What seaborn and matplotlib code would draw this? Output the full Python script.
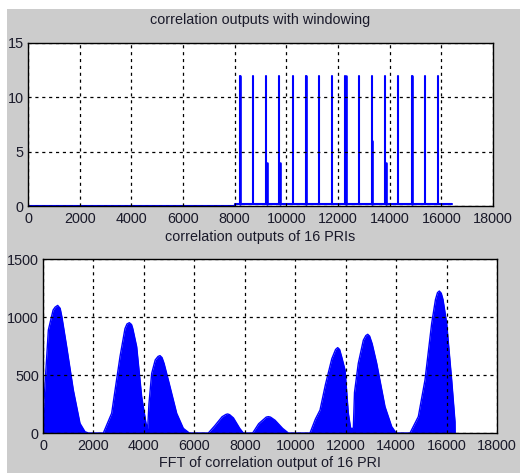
import numpy as np
import pandas as pd
import matplotlib
matplotlib.use("Agg")
import matplotlib.pyplot as plt
import seaborn as sns
from matplotlib.patches import Rectangle

# ---------------- data ----------------
# top: correlation outputs with windowing (spikes)
spike_pos = [8192, 8704, 9216, 9728, 10240, 10752, 11264, 11776,
             12288, 12800, 13312, 13824, 14336, 14848, 15360, 15872]
spike_h = [12, 12, 12, 12, 12, 12, 12, 12, 12, 12, 12, 12, 12, 12, 12, 12]
extra_pos = [8215, 9236, 9748, 10775, 12310, 13332, 13844, 14870]
extra_h = [12, 4, 4, 12, 12, 6, 4, 12]
base_x = [0, 8000, 8000, 16400]
base_y = [0, 0, 0.15, 0.15]
base_level = 0.15

# bottom: FFT envelope
fft_x = [0, 20, 80, 212, 400, 480, 582, 680, 750, 939, 1203, 1467, 1665, 1800,
         2392, 2722, 3053, 3250, 3330, 3423, 3510, 3560, 3714, 3912, 4084, 4150,
         4200, 4309, 4450, 4560, 4639, 4720, 4800, 4969, 5300, 5564, 5800,
         6555, 6800, 7100, 7250, 7322, 7400, 7550, 7800, 7942,
         8313, 8550, 8850, 8934, 9020, 9200, 9500, 9727,
         10586, 10800, 10983, 11200, 11450, 11600, 11683, 11760, 11850, 11974, 12106, 12198,
         12304, 12350, 12500, 12700, 12800, 12874, 12950, 13050, 13230, 13560, 13825, 14000,
         14551, 14880, 15145, 15410, 15560, 15640, 15713, 15790, 15860, 16005, 16203, 16335, 16340]
fft_y = [0, 215, 420, 888, 1060, 1085, 1100, 1075, 1000, 744, 370, 83, 11, 0,
         0, 170, 658, 900, 940, 951, 935, 900, 744, 313, 83, 40,
         250, 514, 630, 660, 667, 650, 600, 457, 170, 40, 0,
         0, 60, 140, 160, 164, 158, 130, 40, 0,
         0, 80, 137, 141, 137, 110, 40, 0,
         0, 120, 198, 420, 640, 720, 736, 720, 650, 543, 170, 40,
         40, 350, 600, 800, 840, 851, 835, 770, 601, 227, 55, 0,
         0, 141, 457, 945, 1150, 1210, 1224, 1205, 1150, 945, 457, 97, 0]

x_ticks = [0, 2000, 4000, 6000, 8000, 10000, 12000, 14000, 16000, 18000]
top_yticks = [0, 5, 10, 15]
bot_yticks = [0, 500, 1000, 1500]

# ---------------- style ----------------
sns.set_theme(style="white")
plt.rcParams['font.family'] = ['Liberation Sans', 'DejaVu Sans']
FS = 10.4
plt.rcParams['font.size'] = FS
TXT = "#1a1a2a"

W, H = 520, 473
fig = plt.figure(figsize=(W / 100, H / 100), dpi=100, facecolor="white")
fig.patches.append(Rectangle((7 / W, 0), 1 - 7 / W, 1 - 9 / H,
                             transform=fig.transFigure, facecolor="#cccccc",
                             edgecolor="none", zorder=-10))

def ax_rect(l, r, t, b):
    return [l / W, 1 - b / H, (r - l) / W, (b - t) / H]

ax1 = fig.add_axes(ax_rect(28, 493, 43, 206))
ax2 = fig.add_axes(ax_rect(43, 497, 259, 433))

BLUE = "#0000ff"

# top chart
base_df = pd.DataFrame({"x": base_x, "y": base_y})
sns.lineplot(data=base_df, x="x", y="y", ax=ax1, color=BLUE, lw=1.5,
             estimator=None, sort=False)
rows = []
for i, (p, h) in enumerate(zip(spike_pos, spike_h)):
    rows += [(p, base_level, i), (p, h, i)]
sp_df = pd.DataFrame(rows, columns=["x", "y", "u"])
sns.lineplot(data=sp_df, x="x", y="y", units="u", ax=ax1, color=BLUE,
             lw=1.5, estimator=None, sort=False)
rows = []
for j, (p, h) in enumerate(zip(extra_pos, extra_h)):
    rows += [(p, base_level, j), (p, h, j)]
ex_df = pd.DataFrame(rows, columns=["x", "y", "u"])
sns.lineplot(data=ex_df, x="x", y="y", units="u", ax=ax1, color=BLUE,
             lw=1.9, estimator=None, sort=False)

# bottom chart
fft_df = pd.DataFrame({"x": fft_x, "y": fft_y})
sns.lineplot(data=fft_df, x="x", y="y", ax=ax2, color=BLUE, lw=1.0,
             estimator=None, sort=False)
ax2.fill_between(fft_df["x"], 0, fft_df["y"], color=BLUE, lw=0)

for ax, yt in ((ax1, top_yticks), (ax2, bot_yticks)):
    ax.set_xlim(0, 18000)
    ax.set_ylim(yt[0], yt[-1])
    ax.set_xticks(x_ticks)
    ax.set_xticklabels([str(v) for v in x_ticks])
    ax.set_yticks(yt)
    ax.set_yticklabels([str(v) for v in yt])
    ax.set_facecolor("white")
    ax.grid(True, color="black", linestyle=(0, (2.5, 3)), lw=0.9)
    ax.set_axisbelow(False)
    for s in ax.spines.values():
        s.set_color("black")
        s.set_linewidth(1.0)
        s.set_visible(True)
    ax.tick_params(axis="x", length=0, pad=4.5, labelsize=FS, colors=TXT)
    ax.tick_params(axis="y", length=0, pad=3, labelsize=FS, colors=TXT)
    ax.set_xlabel("")
    ax.set_ylabel("")

ax1.set_title("correlation outputs with windowing", fontsize=FS, pad=14, color=TXT)
ax1.set_xlabel("correlation outputs of 16 PRIs", fontsize=FS, labelpad=2.5, color=TXT)
ax2.set_xlabel("FFT of correlation output of 16 PRI", fontsize=FS, labelpad=2, color=TXT)

fig.savefig("out.png", dpi=100, facecolor=fig.get_facecolor())
